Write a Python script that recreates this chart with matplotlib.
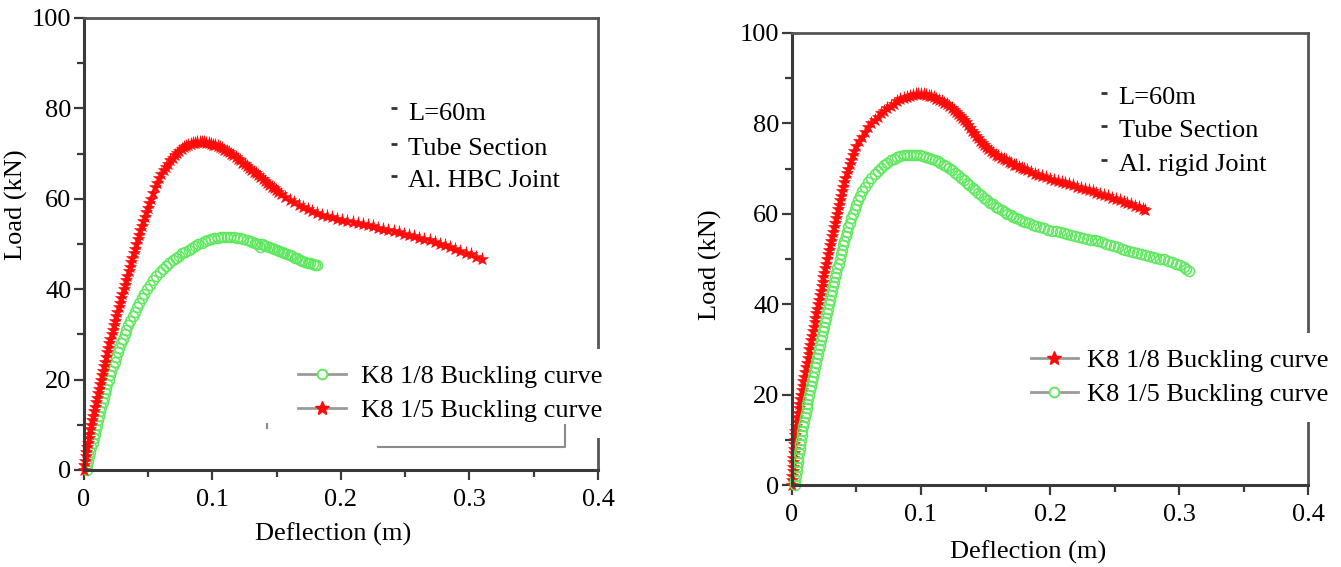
import matplotlib
matplotlib.use("Agg")
import matplotlib.pyplot as plt
from matplotlib.lines import Line2D

plt.rcParams['font.family'] = ['Liberation Serif', 'DejaVu Serif']

# ---- left panel: Al. HBC joint ----
# K8 1/8 (green circles)
hbc_k18_x = [0.0020, 0.0027, 0.0035, 0.0042, 0.0050, 0.0058, 0.0067, 0.0075, 0.0084, 0.0092,
             0.0100, 0.0109, 0.0118, 0.0127, 0.0136, 0.0145, 0.0154, 0.0163, 0.0172, 0.0182,
             0.0192, 0.0203, 0.0214, 0.0226, 0.0238, 0.0250, 0.0262, 0.0275, 0.0288, 0.0302,
             0.0316, 0.0331, 0.0346, 0.0362, 0.0378, 0.0395, 0.0412, 0.0431, 0.0450, 0.0471,
             0.0492, 0.0515, 0.0538, 0.0563, 0.0590, 0.0615, 0.0640, 0.0665, 0.0690, 0.0715,
             0.0740, 0.0765, 0.0790, 0.0815, 0.0840, 0.0865, 0.0890, 0.0915, 0.0940, 0.0965,
             0.0990, 0.1015, 0.1040, 0.1065, 0.1090, 0.1115, 0.1140, 0.1165, 0.1190, 0.1215,
             0.1240, 0.1265, 0.1290, 0.1310, 0.1330, 0.1350, 0.1370, 0.1385, 0.1400, 0.1420,
             0.1440, 0.1460, 0.1480, 0.1500, 0.1520, 0.1540, 0.1560, 0.1580, 0.1600, 0.1620,
             0.1640, 0.1660, 0.1680, 0.1700, 0.1720, 0.1740, 0.1760, 0.1780, 0.1800, 0.1810]
hbc_k18_y = [0.0, 1.0, 2.0, 3.0, 4.0, 5.0, 6.0, 7.0, 8.0, 9.0,
             10.0, 11.0, 12.0, 13.0, 14.0, 15.0, 16.0, 17.0, 18.0, 19.0,
             20.0, 21.0, 22.0, 23.0, 24.0, 25.0, 26.0, 27.0, 28.0, 29.0,
             30.0, 31.0, 32.0, 33.0, 34.0, 35.0, 36.0, 37.0, 38.0, 39.0,
             40.0, 41.0, 42.0, 43.0, 43.8, 44.5, 45.2, 45.8, 46.4, 46.9,
             47.4, 47.9, 48.3, 48.7, 49.1, 49.5, 49.9, 50.3, 50.6, 50.9,
             51.1, 51.3, 51.4, 51.5, 51.6, 51.6, 51.6, 51.5, 51.4, 51.3,
             51.1, 50.9, 50.7, 50.5, 50.3, 50.1, 49.3, 50.0, 49.8, 49.5,
             49.3, 49.1, 48.8, 48.6, 48.4, 48.2, 48.0, 47.8, 47.5, 47.3,
             47.0, 46.8, 46.5, 46.3, 46.1, 45.9, 45.7, 45.5, 45.4, 45.3]

# K8 1/5 (red stars)
hbc_k15_x = [0.0000, 0.0004, 0.0008, 0.0013, 0.0019, 0.0024, 0.0030, 0.0036, 0.0042, 0.0048,
             0.0055, 0.0061, 0.0068, 0.0075, 0.0083, 0.0090, 0.0098, 0.0106, 0.0114, 0.0122,
             0.0130, 0.0138, 0.0146, 0.0154, 0.0162, 0.0171, 0.0179, 0.0188, 0.0197, 0.0206,
             0.0215, 0.0224, 0.0233, 0.0242, 0.0251, 0.0261, 0.0270, 0.0279, 0.0289, 0.0298,
             0.0308, 0.0318, 0.0328, 0.0338, 0.0347, 0.0357, 0.0367, 0.0376, 0.0386, 0.0397,
             0.0407, 0.0418, 0.0429, 0.0439, 0.0450, 0.0461, 0.0472, 0.0483, 0.0495, 0.0506,
             0.0518, 0.0535, 0.0552, 0.0568, 0.0585, 0.0602, 0.0620, 0.0637, 0.0655, 0.0672,
             0.0690, 0.0707, 0.0725, 0.0742, 0.0760, 0.0777, 0.0795, 0.0812, 0.0830, 0.0847,
             0.0865, 0.0882, 0.0900, 0.0917, 0.0935, 0.0952, 0.0970, 0.0987, 0.1005, 0.1022,
             0.1040, 0.1057, 0.1075, 0.1092, 0.1110, 0.1127, 0.1145, 0.1162, 0.1180, 0.1197,
             0.1215, 0.1232, 0.1250, 0.1267, 0.1285, 0.1302, 0.1320, 0.1337, 0.1355, 0.1372,
             0.1390, 0.1407, 0.1425, 0.1442, 0.1460, 0.1477, 0.1495, 0.1512, 0.1530, 0.1565,
             0.1600, 0.1635, 0.1670, 0.1705, 0.1740, 0.1775, 0.1810, 0.1850, 0.1890, 0.1930,
             0.1970, 0.2010, 0.2050, 0.2090, 0.2130, 0.2170, 0.2210, 0.2250, 0.2290, 0.2330,
             0.2370, 0.2410, 0.2450, 0.2490, 0.2530, 0.2570, 0.2610, 0.2650, 0.2690, 0.2730,
             0.2770, 0.2810, 0.2850, 0.2890, 0.2930, 0.2970, 0.3010, 0.3050, 0.3095]
hbc_k15_y = [0.0, 1.0, 2.0, 3.0, 4.0, 5.0, 6.0, 7.0, 8.0, 9.0,
             10.0, 11.0, 12.0, 13.0, 14.0, 15.0, 16.0, 17.0, 18.0, 19.0,
             20.0, 21.0, 22.0, 23.0, 24.0, 25.0, 26.0, 27.0, 28.0, 29.0,
             30.0, 31.0, 32.0, 33.0, 34.0, 35.0, 36.0, 37.0, 38.0, 39.0,
             40.0, 41.0, 42.0, 43.0, 44.0, 45.0, 46.0, 47.0, 48.0, 49.0,
             50.0, 51.0, 52.0, 53.0, 54.0, 55.0, 56.0, 57.0, 58.0, 59.0,
             60.0, 61.2, 62.5, 63.5, 64.5, 65.4, 66.3, 67.1, 67.8, 68.5,
             69.1, 69.7, 70.2, 70.6, 71.0, 71.4, 71.7, 71.9, 72.1, 72.3,
             72.4, 72.5, 72.5, 72.5, 72.5, 72.4, 72.3, 72.2, 72.0, 71.9,
             71.7, 71.5, 71.2, 70.9, 70.6, 70.3, 69.9, 69.6, 69.2, 68.9,
             68.5, 68.0, 67.6, 67.2, 66.8, 66.4, 66.0, 65.6, 65.2, 64.8,
             64.4, 63.9, 63.5, 63.1, 62.7, 62.3, 61.9, 61.5, 61.1, 60.4,
             59.8, 59.2, 58.7, 58.2, 57.7, 57.3, 56.9, 56.5, 56.2, 55.9,
             55.6, 55.3, 55.0, 54.8, 54.6, 54.4, 54.1, 53.9, 53.6, 53.4,
             53.1, 52.9, 52.6, 52.3, 52.0, 51.7, 51.4, 51.1, 50.8, 50.4,
             50.1, 49.7, 49.3, 48.9, 48.5, 48.1, 47.7, 47.2, 46.7]

# ---- right panel: Al. rigid joint ----
# K8 1/8 (red stars)
rig_k18_x = [0.0000, 0.0002, 0.0003, 0.0005, 0.0007, 0.0009, 0.0011, 0.0013, 0.0016, 0.0018,
             0.0021, 0.0024, 0.0027, 0.0031, 0.0035, 0.0040, 0.0045, 0.0051, 0.0056, 0.0062,
             0.0069, 0.0075, 0.0082, 0.0088, 0.0095, 0.0101, 0.0108, 0.0114, 0.0121, 0.0128,
             0.0135, 0.0141, 0.0148, 0.0155, 0.0162, 0.0169, 0.0175, 0.0182, 0.0189, 0.0196,
             0.0203, 0.0209, 0.0216, 0.0223, 0.0230, 0.0237, 0.0244, 0.0251, 0.0258, 0.0265,
             0.0272, 0.0280, 0.0287, 0.0294, 0.0301, 0.0308, 0.0316, 0.0323, 0.0331, 0.0338,
             0.0346, 0.0354, 0.0362, 0.0370, 0.0378, 0.0387, 0.0395, 0.0404, 0.0414, 0.0424,
             0.0435, 0.0446, 0.0458, 0.0470, 0.0484, 0.0500, 0.0519, 0.0539, 0.0565, 0.0590,
             0.0615, 0.0640, 0.0665, 0.0690, 0.0715, 0.0740, 0.0765, 0.0790, 0.0815, 0.0840,
             0.0865, 0.0890, 0.0915, 0.0940, 0.0960, 0.0980, 0.1000, 0.1020, 0.1040, 0.1060,
             0.1080, 0.1100, 0.1120, 0.1140, 0.1160, 0.1180, 0.1200, 0.1220, 0.1240, 0.1255,
             0.1270, 0.1290, 0.1305, 0.1320, 0.1335, 0.1350, 0.1365, 0.1380, 0.1395, 0.1410,
             0.1425, 0.1440, 0.1455, 0.1470, 0.1485, 0.1500, 0.1520, 0.1540, 0.1560, 0.1580,
             0.1600, 0.1620, 0.1640, 0.1660, 0.1680, 0.1700, 0.1720, 0.1740, 0.1760, 0.1780,
             0.1800, 0.1820, 0.1850, 0.1880, 0.1910, 0.1940, 0.1970, 0.2000, 0.2030, 0.2060,
             0.2090, 0.2120, 0.2150, 0.2180, 0.2210, 0.2240, 0.2270, 0.2300, 0.2330, 0.2360,
             0.2390, 0.2420, 0.2450, 0.2480, 0.2510, 0.2540, 0.2570, 0.2600, 0.2630, 0.2660,
             0.2690, 0.2720, 0.2736]
rig_k18_y = [0.0, 1.0, 2.0, 3.0, 4.0, 5.0, 6.0, 7.0, 8.0, 9.0,
             10.0, 11.0, 12.0, 13.0, 14.0, 15.0, 16.0, 17.0, 18.0, 19.0,
             20.0, 21.0, 22.0, 23.0, 24.0, 25.0, 26.0, 27.0, 28.0, 29.0,
             30.0, 31.0, 32.0, 33.0, 34.0, 35.0, 36.0, 37.0, 38.0, 39.0,
             40.0, 41.0, 42.0, 43.0, 44.0, 45.0, 46.0, 47.0, 48.0, 49.0,
             50.0, 51.0, 52.0, 53.0, 54.0, 55.0, 56.0, 57.0, 58.0, 59.0,
             60.0, 61.0, 62.0, 63.0, 64.0, 65.0, 66.0, 67.0, 68.0, 69.0,
             70.0, 71.0, 72.0, 73.0, 74.0, 75.0, 76.0, 77.0, 78.2, 79.1,
             80.0, 80.8, 81.5, 82.2, 82.8, 83.4, 83.9, 84.4, 84.9, 85.3,
             85.6, 85.9, 86.1, 86.3, 86.4, 86.5, 86.5, 86.4, 86.3, 86.1,
             86.0, 85.8, 85.5, 85.2, 84.9, 84.6, 84.3, 83.9, 83.5, 83.0,
             82.6, 82.1, 81.7, 81.2, 80.7, 80.2, 79.6, 79.0, 78.4, 77.8,
             77.2, 76.7, 76.2, 75.7, 75.2, 74.8, 74.3, 73.9, 73.5, 73.1,
             72.7, 72.4, 72.1, 71.8, 71.5, 71.2, 70.9, 70.7, 70.4, 70.2,
             69.9, 69.6, 69.3, 68.9, 68.6, 68.3, 68.1, 67.8, 67.5, 67.3,
             67.1, 66.8, 66.5, 66.3, 66.0, 65.8, 65.5, 65.2, 65.0, 64.7,
             64.4, 64.1, 63.9, 63.6, 63.3, 63.0, 62.7, 62.4, 62.1, 61.7,
             61.4, 61.0, 60.8]

# K8 1/5 (green circles)
rig_k15_x = [0.0023, 0.0027, 0.0031, 0.0035, 0.0040, 0.0044, 0.0049, 0.0054, 0.0059, 0.0064,
             0.0069, 0.0075, 0.0081, 0.0087, 0.0094, 0.0100, 0.0107, 0.0114, 0.0120, 0.0127,
             0.0134, 0.0141, 0.0148, 0.0156, 0.0163, 0.0170, 0.0177, 0.0184, 0.0192, 0.0199,
             0.0207, 0.0215, 0.0222, 0.0230, 0.0238, 0.0246, 0.0254, 0.0262, 0.0270, 0.0278,
             0.0286, 0.0294, 0.0302, 0.0310, 0.0319, 0.0327, 0.0335, 0.0344, 0.0352, 0.0361,
             0.0370, 0.0379, 0.0388, 0.0398, 0.0407, 0.0417, 0.0427, 0.0438, 0.0449, 0.0460,
             0.0472, 0.0485, 0.0498, 0.0513, 0.0528, 0.0545, 0.0567, 0.0590, 0.0615, 0.0640,
             0.0665, 0.0690, 0.0715, 0.0740, 0.0765, 0.0790, 0.0815, 0.0840, 0.0865, 0.0890,
             0.0915, 0.0940, 0.0965, 0.0990, 0.1015, 0.1040, 0.1060, 0.1085, 0.1105, 0.1130,
             0.1150, 0.1175, 0.1195, 0.1220, 0.1240, 0.1265, 0.1285, 0.1310, 0.1330, 0.1355,
             0.1375, 0.1400, 0.1420, 0.1445, 0.1465, 0.1490, 0.1510, 0.1535, 0.1555, 0.1580,
             0.1600, 0.1625, 0.1650, 0.1670, 0.1695, 0.1715, 0.1740, 0.1760, 0.1785, 0.1805,
             0.1835, 0.1865, 0.1895, 0.1925, 0.1955, 0.1985, 0.2015, 0.2045, 0.2075, 0.2105,
             0.2135, 0.2165, 0.2195, 0.2225, 0.2255, 0.2285, 0.2315, 0.2345, 0.2375, 0.2405,
             0.2435, 0.2465, 0.2495, 0.2525, 0.2555, 0.2585, 0.2615, 0.2645, 0.2675, 0.2705,
             0.2735, 0.2765, 0.2795, 0.2825, 0.2855, 0.2885, 0.2915, 0.2945, 0.2975, 0.3005,
             0.3035, 0.3055, 0.3075]
rig_k15_y = [0.0, 1.0, 2.0, 3.0, 4.0, 5.0, 6.0, 7.0, 8.0, 9.0,
             10.0, 11.0, 12.0, 13.0, 14.0, 15.0, 16.0, 17.0, 18.0, 19.0,
             20.0, 21.0, 22.0, 23.0, 24.0, 25.0, 26.0, 27.0, 28.0, 29.0,
             30.0, 31.0, 32.0, 33.0, 34.0, 35.0, 36.0, 37.0, 38.0, 39.0,
             40.0, 41.0, 42.0, 43.0, 44.0, 45.0, 46.0, 47.0, 48.0, 49.0,
             50.0, 51.0, 52.0, 53.0, 54.0, 55.0, 56.0, 57.0, 58.0, 59.0,
             60.0, 61.0, 62.0, 63.0, 64.0, 65.0, 66.0, 67.0, 67.9, 68.8,
             69.5, 70.2, 70.8, 71.3, 71.8, 72.2, 72.5, 72.7, 72.9, 73.0,
             73.0, 73.0, 73.0, 72.9, 72.8, 72.6, 72.4, 72.2, 71.9, 71.6,
             71.3, 70.9, 70.5, 70.1, 69.6, 69.1, 68.6, 68.0, 67.4, 66.8,
             66.3, 65.7, 65.2, 64.6, 64.1, 63.5, 63.1, 62.5, 62.1, 61.6,
             61.2, 60.8, 60.4, 60.0, 59.7, 59.4, 59.1, 58.8, 58.5, 58.2,
             57.9, 57.6, 57.3, 57.0, 56.8, 56.5, 56.3, 56.1, 55.9, 55.7,
             55.5, 55.3, 55.1, 54.9, 54.7, 54.5, 54.3, 54.1, 53.9, 53.7,
             53.4, 53.1, 52.9, 52.6, 52.3, 52.1, 51.8, 51.5, 51.3, 51.1,
             50.9, 50.7, 50.5, 50.3, 50.1, 49.9, 49.6, 49.3, 49.0, 48.6,
             48.2, 47.8, 47.3]

x_ticks = [0, 0.1, 0.2, 0.3, 0.4]
x_tick_labels = ["0", "0.1", "0.2", "0.3", "0.4"]
y_ticks = [0, 20, 40, 60, 80, 100]
y_tick_labels = ["0", "20", "40", "60", "80", "100"]

left_notes = ["L=60m", "Tube Section", "Al. HBC Joint"]
right_notes = ["L=60m", "Tube Section", "Al. rigid Joint"]
lbl_18 = "K8 1/8 Buckling curve"
lbl_15 = "K8 1/5 Buckling curve"

RED = "#ff0a0a"
GREEN = "#5ee85e"
FS = 19


def style_axes(ax):
    ax.set_xlim(0, 0.4)
    ax.set_ylim(0, 100)
    ax.set_xticks(x_ticks)
    ax.set_xticklabels(x_tick_labels)
    ax.set_yticks(y_ticks)
    ax.set_yticklabels(y_tick_labels)
    ax.set_xticks([0.05, 0.15, 0.25, 0.35], minor=True)
    ax.set_yticks([10, 30, 50, 70, 90], minor=True)
    for side in ["left", "bottom"]:
        ax.spines[side].set_color("#3a3a3a")
        ax.spines[side].set_linewidth(2.2)
    for side in ["top", "right"]:
        ax.spines[side].set_color("#555555")
        ax.spines[side].set_linewidth(2.0)
    ax.tick_params(which="major", direction="out", length=7, width=1.6,
                   color="#3a3a3a", labelsize=FS, pad=2)
    ax.tick_params(which="minor", direction="out", length=5, width=1.6,
                   color="#3a3a3a")
    ax.tick_params(axis="x", which="major", pad=7)
    ax.set_xlabel("Deflection (m)", fontsize=FS)
    ax.set_ylabel("Load (kN)", fontsize=FS)


def star_line(ax, x, y):
    ax.plot(x, y, ls="none", marker="*", ms=9.5, color=RED, mec=RED, mew=0.4, clip_on=False)


def circle_line(ax, x, y):
    ax.plot(x, y, ls="none", marker="o", ms=7.2, mfc="none", mec=GREEN, mew=1.1, clip_on=False)


def add_notes(ax, notes, x0, ys):
    for txt, yy in zip(notes, ys):
        ax.plot([x0], [yy + 0.025], transform=ax.transAxes, marker="_", ms=5,
                mew=2, color="#333333", clip_on=False)
        ax.text(x0 + 0.028, yy, txt, transform=ax.transAxes, fontsize=FS, va="baseline")


def handles(order):
    star = Line2D([], [], color="#9a9a9a", lw=2, marker="*", ms=10, mfc=RED, mec=RED)
    circ = Line2D([], [], color="#9a9a9a", lw=2, marker="o", ms=7, mfc="white",
                  mec=GREEN, mew=1.4)
    return [circ, star] if order == "circ_first" else [star, circ]


fig = plt.figure(figsize=(13.41, 5.67), dpi=100)
ax1 = fig.add_axes([0.0626, 0.1711, 0.3833, 0.7972])
ax2 = fig.add_axes([0.5906, 0.1446, 0.3848, 0.7972])

# left
style_axes(ax1)
circle_line(ax1, hbc_k18_x, hbc_k18_y)
star_line(ax1, hbc_k15_x, hbc_k15_y)
add_notes(ax1, left_notes, 0.603, [0.775, 0.697, 0.626])
leg1 = ax1.legend(handles("circ_first"), [lbl_18, lbl_15], loc="upper left",
                  bbox_to_anchor=(0.3866, 0.2677), fontsize=FS, frameon=True,
                  facecolor="white", edgecolor="none", framealpha=1,
                  handlelength=1.8, handletextpad=0.55, labelspacing=0.40,
                  borderpad=0.6, borderaxespad=0, fancybox=False)
leg1.set_zorder(5)
# leftover frame pieces below the legend
ax1.plot([0.572, 0.935, 0.935], [0.05, 0.05, 0.10], transform=ax1.transAxes,
         color="#8a8a8a", lw=1.5, clip_on=False, zorder=6)
ax1.plot([0.357, 0.357], [0.092, 0.102], transform=ax1.transAxes,
         color="#8a8a8a", lw=1.5, clip_on=False, zorder=6)
ax1.xaxis.set_label_coords(0.484, -0.117)
ax1.yaxis.set_label_coords(-0.109, 0.586)

# right
style_axes(ax2)
star_line(ax2, rig_k18_x, rig_k18_y)
circle_line(ax2, rig_k15_x, rig_k15_y)
add_notes(ax2, right_notes, 0.605, [0.842, 0.769, 0.694])
leg2 = ax2.legend(handles("star_first"), [lbl_18, lbl_15], loc="upper left",
                  bbox_to_anchor=(0.4316, 0.336), fontsize=FS, frameon=True,
                  facecolor="white", edgecolor="none", framealpha=1,
                  handlelength=1.8, handletextpad=0.35, labelspacing=0.40,
                  borderpad=0.6, borderaxespad=0, fancybox=False)
leg2.set_zorder(5)
ax2.xaxis.set_label_coords(0.457, -0.122)
ax2.yaxis.set_label_coords(-0.136, 0.487)

fig.savefig("out.png", dpi=100)
